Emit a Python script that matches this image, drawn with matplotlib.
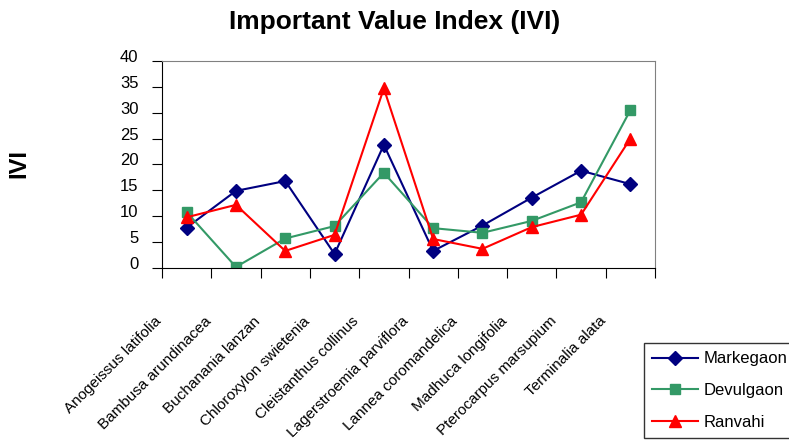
import matplotlib
matplotlib.use("Agg")
import matplotlib.pyplot as plt
import matplotlib.transforms as mtransforms
import numpy as np

plt.rcParams['font.family'] = ['Liberation Sans', 'DejaVu Sans']

species = ['Anogeissus latifolia', 'Bambusa arundinacea', 'Buchanania lanzan',
           'Chloroxylon swietenia', 'Cleistanthus collinus', 'Lagerstroemia parviflora',
           'Lannea coromandelica', 'Madhuca longifolia', 'Pterocarpus marsupium',
           'Terminalia alata']
markegaon = [7.8, 14.9, 16.8, 2.7, 23.8, 3.3, 8.2, 13.6, 18.8, 16.2]
devulgaon = [10.8, 0.2, 5.7, 8.1, 18.4, 7.7, 6.8, 9.1, 12.7, 30.5]
ranvahi = [9.8, 12.2, 3.3, 6.4, 34.7, 5.6, 3.7, 7.9, 10.3, 25.0]
yticks = [0, 5, 10, 15, 20, 25, 30, 35, 40]

fig = plt.figure(figsize=(7.89, 4.48), dpi=100)
ax = fig.add_axes([0.2053, 0.4018, 0.6249, 0.4621])

x = np.arange(len(species))
ax.plot(x, markegaon, color='#000080', marker='D', markersize=7, lw=1.5, label='Markegaon')
ax.plot(x, devulgaon, color='#339966', marker='s', markersize=7, lw=1.5, label='Devulgaon')
ax.plot(x, ranvahi, color='#FF0000', marker='^', markersize=9, lw=1.5, label='Ranvahi')

ax.set_xlim(-0.5, len(species) - 0.5)
ax.set_ylim(0, 40)
ax.set_yticks(yticks)
ax.tick_params(axis='y', labelsize=12, length=7, direction='out', pad=10)
for lbl in ax.get_yticklabels():
    lbl.set_verticalalignment('bottom')
    lbl.set_transform(lbl.get_transform() + mtransforms.ScaledTranslation(0, -0.04, fig.dpi_scale_trans))

# category labels between boundary ticks
ax.set_xticks(np.arange(len(species) + 1) - 0.5)
ax.set_xticklabels([])
ax.tick_params(axis='x', length=7, direction='out')
offset = mtransforms.ScaledTranslation(-0.27, -0.51, fig.dpi_scale_trans)
for i, name in enumerate(species):
    ax.text(i, 0, name, transform=ax.get_xaxis_transform() + offset,
            rotation=45, ha='right', va='center', rotation_mode='anchor', fontsize=11)

for side in ['top', 'right']:
    ax.spines[side].set_color('#808080')
ax.spines['left'].set_color('black')
ax.spines['bottom'].set_color('black')

fig.text(0.5, 0.951, 'Important Value Index (IVI)', ha='center', va='center',
         fontsize=19, fontweight='bold')
fig.text(0.024, 0.634, 'IVI', ha='center', va='center', rotation=90,
         fontsize=17, fontweight='bold')

leg = ax.legend(loc='upper left', bbox_to_anchor=(644 / 789, 1 - 343 / 448),
                bbox_transform=fig.transFigure, fontsize=12, frameon=True,
                fancybox=False, edgecolor='black', handlelength=2.75,
                borderpad=0.5, labelspacing=1.0, borderaxespad=0,
                handletextpad=0.3)
leg.get_frame().set_linewidth(1.0)

fig.savefig('out.png', dpi=100)
